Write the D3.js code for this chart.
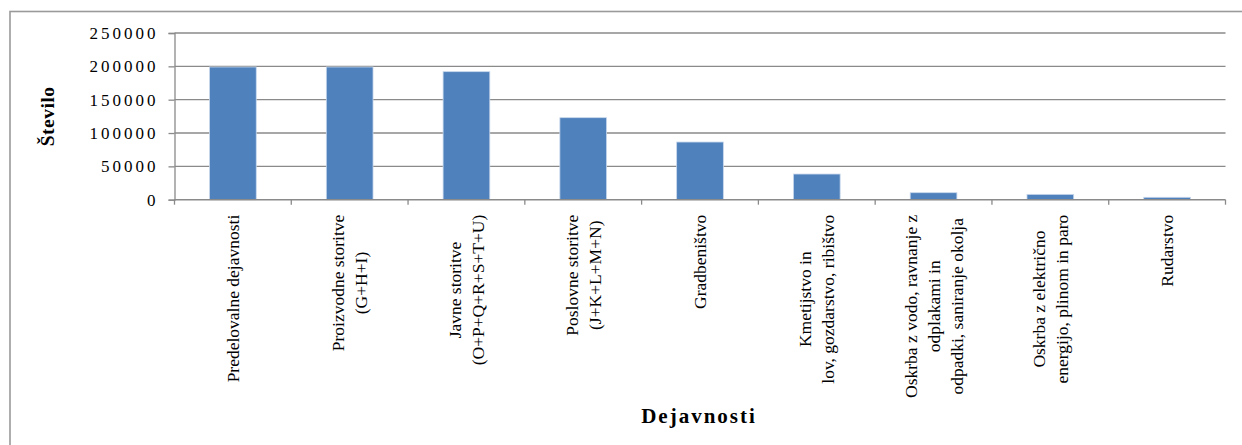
<!DOCTYPE html>
<html>
<head>
<meta charset="utf-8">
<script src="https://cdn.jsdelivr.net/npm/d3@7"></script>
<style>
  html, body { margin: 0; padding: 0; background: #fff; }
  svg { display: block; }
  text { font-family: "Liberation Serif", "Times New Roman", serif; fill: #000; }
</style>
</head>
<body>
<svg id="chart" width="1242" height="445"></svg>
<script>
// Število zaposlenih po dejavnostih
const categories = [
  ["Predelovalne dejavnosti"],
  ["Proizvodne storitve", "(G+H+I)"],
  ["Javne storitve", "(O+P+Q+R+S+T+U)"],
  ["Poslovne storitve", "(J+K+L+M+N)"],
  ["Gradbeništvo"],
  ["Kmetijstvo in", "lov, gozdarstvo, ribištvo"],
  ["Oskrba z vodo, ravnanje z", "odplakami in", "odpadki, saniranje okolja"],
  ["Oskrba z električno", "energijo, plinom in paro"],
  ["Rudarstvo"]
];
const values = [199000, 199000, 192000, 123000, 86500, 38500, 10500, 8000, 3600];
const yTicks = [0, 50000, 100000, 150000, 200000, 250000];
const yTitle = "Število";
const xTitle = "Dejavnosti";

const svg = d3.select("#chart");
const plot = { left: 174.5, right: 1225.5, top: 33, bottom: 199.7 };

// outer chart frame
svg.append("rect")
  .attr("x", 10).attr("y", 11.5)
  .attr("width", 1245).attr("height", 445)
  .attr("fill", "none").attr("stroke", "#9a9a9a").attr("stroke-width", 1.6);

const idx = categories.map((d, i) => i);
const x = d3.scaleBand().domain(idx).range([plot.left, plot.right])
  .paddingInner(0.6).paddingOuter(0.3);
const y = d3.scaleLinear().domain([0, 250000]).range([plot.bottom, plot.top]);
const step = x.step();

// horizontal gridlines
svg.append("g").selectAll("line").data(yTicks.filter(t => t > 0)).join("line")
  .attr("x1", plot.left).attr("x2", plot.right)
  .attr("y1", d => y(d)).attr("y2", d => y(d))
  .attr("stroke", "#8a8a8a").attr("stroke-width", 1.3);

// bars
svg.append("g").selectAll("rect").data(values).join("rect")
  .attr("x", (d, i) => x(i))
  .attr("width", x.bandwidth())
  .attr("y", d => y(d))
  .attr("height", d => y(0) - y(d))
  .attr("fill", "#4f81bd")
  .attr("stroke", "#c9d8ec").attr("stroke-width", 0.8);

// y axis
const yAxis = d3.axisLeft(y).tickValues(yTicks).tickSize(6).tickPadding(10)
  .tickFormat(d3.format("d"));
const gy = svg.append("g").attr("transform", `translate(${plot.left},0)`).call(yAxis);
gy.select(".domain").attr("stroke", "#8a8a8a").attr("stroke-width", 1.3);
gy.selectAll(".tick line").attr("stroke", "#8a8a8a").attr("stroke-width", 1.3);
gy.selectAll(".tick text")
  .style("font-family", "'Liberation Serif', serif")
  .style("font-size", "17px")
  .style("letter-spacing", "3px")
  .attr("x", -16);

// x axis: baseline with ticks on category boundaries
const boundaries = d3.range(categories.length + 1).map(i => plot.left + i * step);
svg.append("line")
  .attr("x1", plot.left).attr("x2", plot.right)
  .attr("y1", y(0)).attr("y2", y(0))
  .attr("stroke", "#8a8a8a").attr("stroke-width", 1.6);
svg.append("g").selectAll("line").data(boundaries).join("line")
  .attr("x1", d => d).attr("x2", d => d)
  .attr("y1", y(0)).attr("y2", y(0) + 5)
  .attr("stroke", "#8a8a8a").attr("stroke-width", 1.3);

// rotated category labels, block centred on each category
const lineH = 23;
const labels = svg.append("g").selectAll("g").data(categories).join("g")
  .attr("transform", (d, i) => `translate(${x(i) + x.bandwidth() / 2},${y(0) + 15}) rotate(-90)`);
labels.each(function (lines) {
  const g = d3.select(this);
  const n = lines.length;
  const texts = g.selectAll("text").data(lines).join("text")
    .attr("text-anchor", "middle")
    .attr("y", (d, j) => (j - (n - 1) / 2) * lineH)
    .attr("dy", "0.35em")
    .style("font-size", "17.5px")
    .text(d => d);
  let maxLen = 0;
  texts.each(function () { maxLen = Math.max(maxLen, this.getComputedTextLength()); });
  texts.attr("x", -maxLen / 2);
});

// axis titles
svg.append("text")
  .attr("transform", `translate(54,${(plot.top + plot.bottom) / 2}) rotate(-90)`)
  .attr("text-anchor", "middle")
  .style("font-size", "19.5px").style("font-weight", "bold")
  .style("letter-spacing", "0.5px")
  .text(yTitle);

svg.append("text")
  .attr("x", 699).attr("y", 423)
  .attr("text-anchor", "middle")
  .style("font-size", "21px").style("font-weight", "bold")
  .style("letter-spacing", "2px")
  .text(xTitle);
</script>
</body>
</html>
